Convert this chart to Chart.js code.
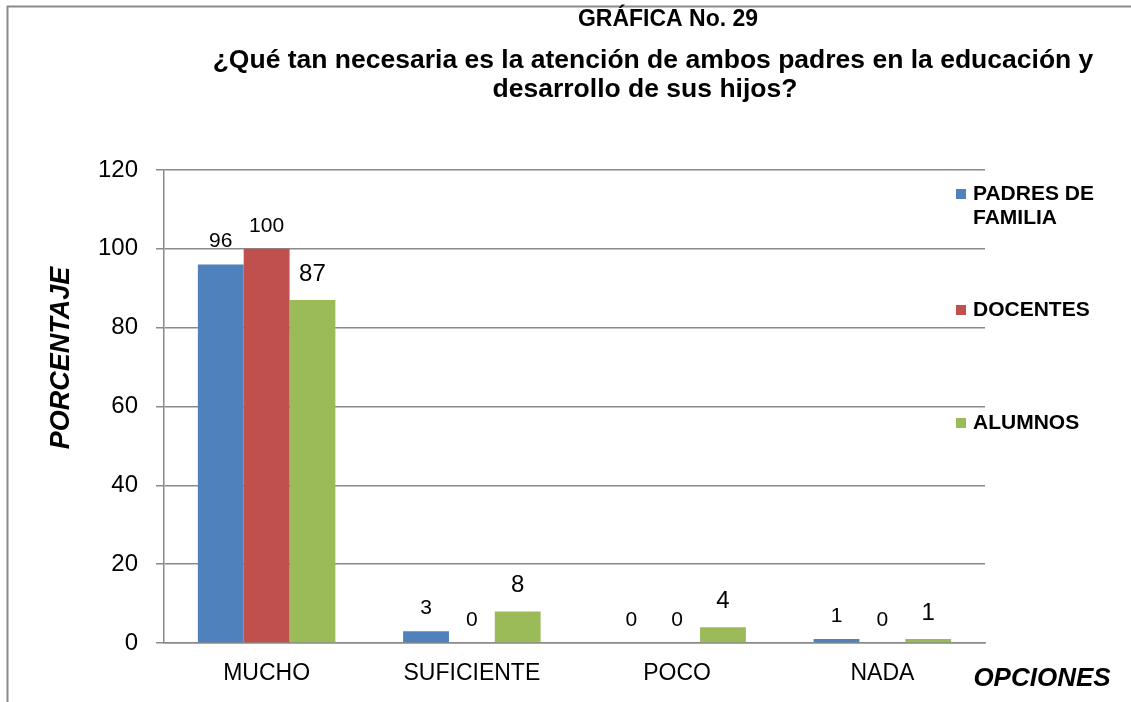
<!DOCTYPE html>
<html>
<head>
<meta charset="utf-8">
<script src="https://cdn.jsdelivr.net/npm/chart.js@4"></script>
<style>
  html, body { margin: 0; padding: 0; background: #fff; }
  #wrap { width: 1131px; height: 702px; }
</style>
</head>
<body>
<div id="wrap"><canvas id="chart" width="1131" height="702"></canvas></div>
<script>
// Data
const categories = ['MUCHO', 'SUFICIENTE', 'POCO', 'NADA'];
const padres = [96, 3, 0, 1];
const docentes = [100, 0, 0, 0];
const alumnos = [87, 8, 4, 1];
const yTicks = [0, 20, 40, 60, 80, 100, 120];

const FONT = 'Arial, "Liberation Sans", sans-serif';
const GRID = '#8a8a8a';

// Title lines, axis titles, legend, frame, bar values
const decorations = {
  id: 'decorations',
  afterDraw(chart) {
    const { ctx } = chart;
    ctx.save();

    // outer frame
    ctx.strokeStyle = GRID;
    ctx.lineWidth = 2;
    ctx.beginPath();
    ctx.moveTo(7.5, 702);
    ctx.lineTo(7.5, 6.5);
    ctx.lineTo(1131, 6.5);
    ctx.stroke();

    // title
    ctx.fillStyle = '#000';
    ctx.textAlign = 'center';
    ctx.textBaseline = 'middle';
    ctx.font = 'bold 23px ' + FONT;
    ctx.fillText('GRÁFICA No. 29', 668, 20);
    ctx.font = 'bold 26.5px ' + FONT;
    ctx.fillText('¿Qué tan necesaria es la atención de ambos padres en la educación y', 653, 61);
    ctx.fillText('desarrollo de sus hijos?', 645, 90);

    // axis titles
    ctx.font = 'italic bold 26px ' + FONT;
    ctx.fillText('OPCIONES', 1042, 679);
    ctx.save();
    ctx.translate(62, 358);
    ctx.rotate(-Math.PI / 2);
    ctx.font = 'italic bold 27px ' + FONT;
    ctx.fillText('PORCENTAJE', 0, 0);
    ctx.restore();

    // legend
    const legend = [
      { color: chart.data.datasets[0].backgroundColor, lines: ['PADRES DE', 'FAMILIA'], y: 194 },
      { color: chart.data.datasets[1].backgroundColor, lines: ['DOCENTES'], y: 310 },
      { color: chart.data.datasets[2].backgroundColor, lines: ['ALUMNOS'], y: 423 }
    ];
    ctx.font = 'bold 21px ' + FONT;
    ctx.textAlign = 'left';
    legend.forEach(item => {
      ctx.fillStyle = item.color;
      ctx.fillRect(956, item.y - 5, 10, 10);
      ctx.fillStyle = '#000';
      item.lines.forEach((t, i) => ctx.fillText(t, 973, item.y + i * 24));
    });

    // value labels
    const labelSizes = [21, 21, 24];
    ctx.textAlign = 'center';
    chart.data.datasets.forEach((ds, di) => {
      const meta = chart.getDatasetMeta(di);
      ctx.font = labelSizes[di] + 'px ' + FONT;
      meta.data.forEach((bar, i) => {
        ctx.fillText(String(ds.data[i]), bar.x, bar.y - (di === 2 ? 26 : 23));
      });
    });

    ctx.restore();
  }
};

new Chart(document.getElementById('chart'), {
  type: 'bar',
  data: {
    labels: categories,
    datasets: [
      { label: 'PADRES DE FAMILIA', data: padres, backgroundColor: '#4F81BD' },
      { label: 'DOCENTES', data: docentes, backgroundColor: '#C0504D' },
      { label: 'ALUMNOS', data: alumnos, backgroundColor: '#9BBB59' }
    ]
  },
  options: {
    responsive: false,
    animation: false,
    layout: { padding: { top: 170, right: 146, left: 0, bottom: 0 } },
    datasets: { bar: { categoryPercentage: 0.67, barPercentage: 1, borderWidth: 0 } },
    scales: {
      x: {
        grid: { display: false, drawTicks: false },
        border: { display: true, color: GRID, width: 1.5 },
        ticks: { color: '#000', font: { family: FONT, size: 23 }, padding: 17 },
        afterFit(scale) { scale.height = 59; }
      },
      y: {
        min: 0, max: 120,
        afterBuildTicks(scale) { scale.ticks = yTicks.map(v => ({ value: v })); },
        grid: { color: GRID, lineWidth: 1.5, tickLength: 8 },
        border: { display: true, color: GRID, width: 1.5 },
        ticks: { color: '#000', font: { family: FONT, size: 24 }, padding: 18 },
        afterFit(scale) { scale.width = 164; }
      }
    },
    plugins: { legend: { display: false }, tooltip: { enabled: false }, title: { display: false } }
  },
  plugins: [decorations]
});
</script>
</body>
</html>
